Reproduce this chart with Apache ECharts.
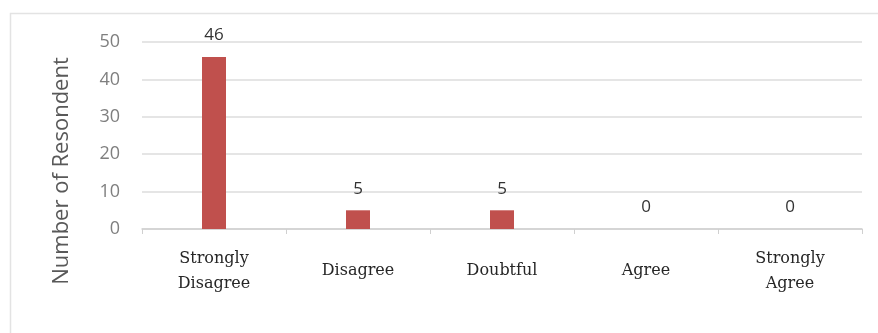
<!DOCTYPE html>
<html>
<head>
<meta charset="utf-8">
<script src="https://cdn.jsdelivr.net/npm/echarts@6/dist/echarts.min.js"></script>
<style>
  html, body { margin: 0; padding: 0; background: #fff; }
  #chart { width: 878px; height: 333px; }
</style>
</head>
<body>
<div id="chart"></div>
<script>
// Survey responses per answer option
const categories = ['Strongly\nDisagree', 'Disagree', 'Doubtful', 'Agree', 'Strongly\nAgree'];
const respondents = [46, 5, 5, 0, 0];
const yTicks = { min: 0, max: 50, interval: 10 };
const yTitle = 'Number of Resondent';

const chart = echarts.init(document.getElementById('chart'), null, { renderer: 'canvas' });

chart.setOption({
  animation: false,
  backgroundColor: '#ffffff',
  grid: { left: 142, right: 16, top: 42, bottom: 104, containLabel: false },
  graphic: [
    {
      type: 'rect',
      shape: { x: 10.5, y: 13.5, width: 900, height: 400 },
      style: { fill: 'none', stroke: '#e3e3e3', lineWidth: 1.5 },
      silent: true
    },
    {
      type: 'text',
      x: 62, y: 171,
      rotation: Math.PI / 2,
      style: {
        text: yTitle,
        font: '22px "Open Sans", sans-serif',
        fill: '#595959',
        align: 'center',
        verticalAlign: 'middle'
      }
    }
  ],
  xAxis: {
    type: 'category',
    data: categories,
    boundaryGap: true,
    axisLine: { show: true, lineStyle: { color: '#d0d0d0', width: 1.5 } },
    axisTick: { show: true, length: 5, lineStyle: { color: '#d0d0d0' } },
    axisLabel: {
      margin: 42,
      verticalAlign: 'middle',
      color: '#262626',
      fontFamily: '"DejaVu Serif", serif',
      fontSize: 16,
      lineHeight: 25
    }
  },
  yAxis: {
    type: 'value',
    min: yTicks.min,
    max: yTicks.max,
    interval: yTicks.interval,
    axisLine: { show: false },
    axisTick: { show: false },
    splitLine: { lineStyle: { color: '#dcdcdc', width: 1.5 } },
    axisLabel: {
      margin: 22,
      color: '#7f7f7f',
      fontFamily: '"Open Sans", sans-serif',
      fontSize: 18
    }
  },
  series: [{
    type: 'bar',
    data: respondents,
    barWidth: 24,
    itemStyle: { color: '#c0504d' },
    label: {
      show: true,
      position: 'top',
      distance: 13,
      color: '#333333',
      fontFamily: '"Open Sans", sans-serif',
      fontSize: 17
    }
  }]
});
</script>
</body>
</html>
